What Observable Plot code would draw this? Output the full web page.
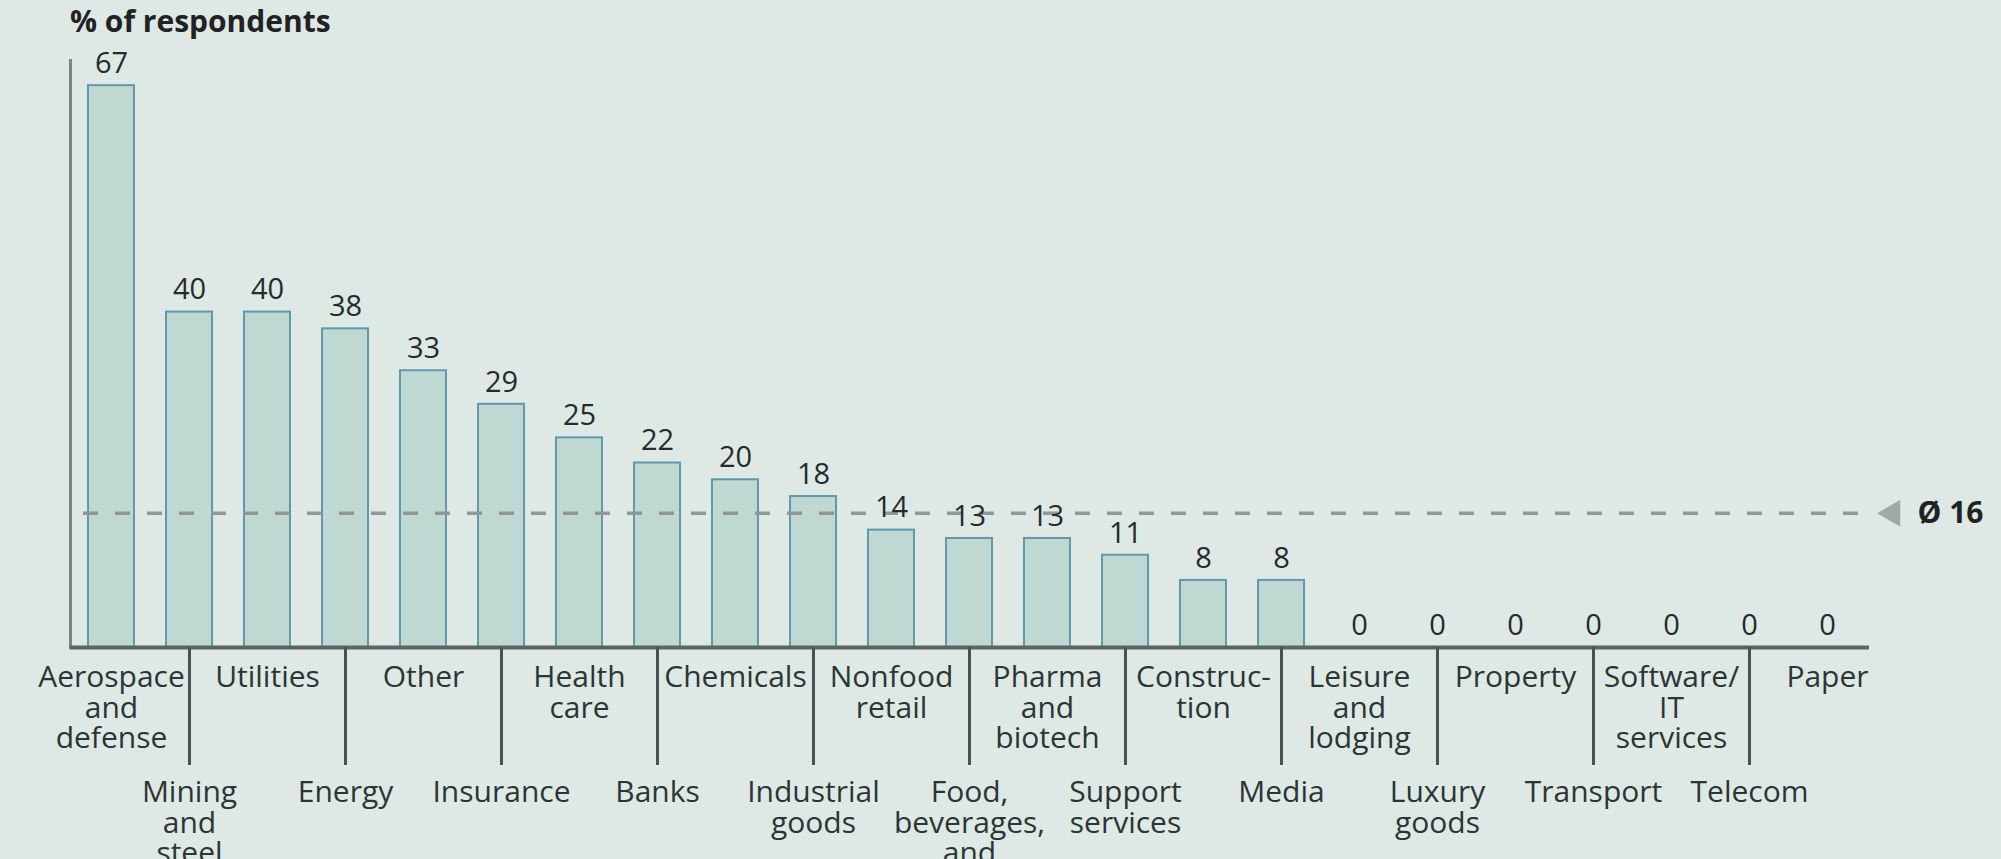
<!DOCTYPE html>
<html>
<head>
<meta charset="utf-8">
<script src="https://cdn.jsdelivr.net/npm/d3@7"></script>
<script src="https://cdn.jsdelivr.net/npm/@observablehq/plot@0.6"></script>
<style>
  html, body { margin: 0; padding: 0; background: #dee9e5; overflow: hidden; }
  #wrap { position: relative; width: 2001px; height: 859px; }
  #title { position: absolute; left: 70px; top: 6px; font-family: "Open Sans", sans-serif; font-weight: bold; font-size: 30px; line-height: 1; color: #222; white-space: nowrap; }
  svg { display: block; }
</style>
</head>
<body>
<div id="wrap">
  <div id="title">% of respondents</div>
  <div id="chart"></div>
</div>
<script>
const categories = [
  "Aerospace\nand\ndefense", "Mining\nand\nsteel", "Utilities", "Energy", "Other",
  "Insurance", "Health\ncare", "Banks", "Chemicals", "Industrial\ngoods",
  "Nonfood\nretail", "Food,\nbeverages,\nand", "Pharma\nand\nbiotech", "Support\nservices",
  "Construc-\ntion", "Media", "Leisure\nand\nlodging", "Luxury\ngoods", "Property",
  "Transport", "Software/\nIT\nservices", "Telecom", "Paper"
];
const values = [67, 40, 40, 38, 33, 29, 25, 22, 20, 18, 14, 13, 13, 11, 8, 8, 0, 0, 0, 0, 0, 0, 0];
const average = 16;

const data = categories.map((c, i) => ({cat: c, val: values[i]}));
const upperTicks = categories.filter((c, i) => i % 2 === 0);
const lowerTicks = categories.filter((c, i) => i % 2 === 1);

const chart = Plot.plot({
  width: 2001,
  height: 859,
  marginLeft: 70,
  marginRight: 132,
  marginTop: 60,
  marginBottom: 212,
  style: {background: "transparent", fontFamily: "Open Sans, sans-serif", color: "#2c3533", overflow: "hidden"},
  x: {domain: categories, paddingInner: 0.41, paddingOuter: 0.2, axis: null},
  y: {domain: [0, 70], axis: null},
  marks: [
    Plot.frame({anchor: "left", stroke: "#7b8684", strokeWidth: 3}),
    Plot.barY(data.filter(d => d.val > 0), {x: "cat", y: "val", fill: "#bfd8d2", stroke: "#6198ae", strokeWidth: 2}),
    Plot.ruleY([average], {stroke: "#8e9896", strokeWidth: 3.5, strokeDasharray: "15,17", insetLeft: 13}),
    Plot.dot([average], {y: d => d, frameAnchor: "right", dx: 23, symbol: "triangle", r: 10, rotate: -90, fill: "#a3a9ab", stroke: "none"}),
    Plot.text([average], {y: d => d, text: d => "Ø " + d, frameAnchor: "right", dx: 48, textAnchor: "start", fontWeight: "bold", fontSize: 30, fill: "#1e2422"}),
    Plot.text(data, {x: "cat", y: "val", text: d => String(d.val), dy: -22, fontSize: 29, fontWeight: 500, fill: "#242b29"}),
    Plot.ruleY([0], {stroke: "#5b6664", strokeWidth: 4}),
    Plot.axisX(upperTicks, {anchor: "bottom", tickSize: 0, tickPadding: 18, fontSize: 30, fontWeight: 500, lineHeight: 1.02, label: null, fill: "#2c3533"}),
    Plot.axisX(lowerTicks, {anchor: "bottom", tickSize: 118, tickPadding: 15, fontSize: 30, fontWeight: 500, lineHeight: 1.02, label: null, stroke: "#48524f", strokeWidth: 3, fill: "#2c3533"})
  ]
});
document.getElementById("chart").appendChild(chart);
</script>
</body>
</html>
